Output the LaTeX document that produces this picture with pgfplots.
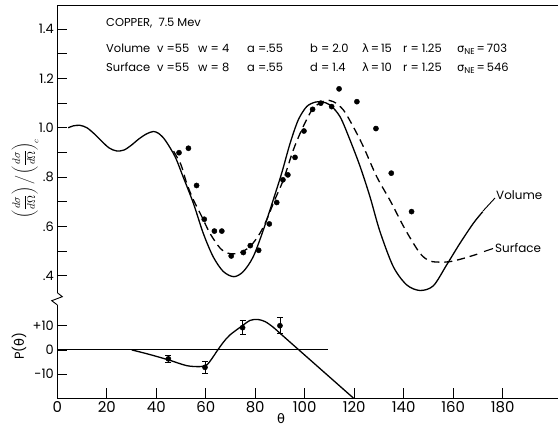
\documentclass[border=0pt]{standalone}
\usepackage{fontspec}
\setmainfont{Poppins}
\newfontfamily\grk{DejaVu Sans}
\usepackage{amsmath}
\usepackage{pgfplots}
\usepackage{pgfplotstable}
\pgfplotsset{compat=1.18}

\pgfplotstableread{
t v
49.2 0.899
53.0 0.917
56.3 0.766
59.4 0.629
63.5 0.581
66.5 0.581
70.3 0.480
75.2 0.494
78.0 0.522
81.4 0.503
85.7 0.610
88.7 0.697
91.2 0.789
93.2 0.809
96.1 0.880
99.7 0.987
103.2 1.075
106.5 1.100
110.9 1.086
113.9 1.158
121.1 1.106
128.8 0.997
135.0 0.816
143.2 0.660
}\crossdata

\pgfplotstableread{
t v
4.4 1.000
6.5 1.008
9.2 1.010
12 1.000
15 0.975
18 0.945
21 0.918
24 0.906
27 0.910
30 0.930
33 0.955
36 0.975
38.8 0.985
41 0.977
43.6 0.950
47.6 0.883
50.9 0.800
55 0.694
59 0.572
63 0.477
67.1 0.417
71.4 0.396
75.2 0.417
79.2 0.477
83.3 0.586
87.3 0.708
90.7 0.816
94.1 0.937
97.4 1.032
100.8 1.086
104.2 1.104
106.9 1.105
110.2 1.093
114.3 1.045
118.3 0.951
122.4 0.843
126.4 0.720
130.4 0.580
135.8 0.437
141.2 0.363
146.6 0.340
152 0.359
157.4 0.444
162.8 0.532
168.2 0.613
172 0.660
}\volume

\pgfplotstableread{
t v
47 0.905
50 0.850
52.3 0.775
55 0.708
58.4 0.640
61.7 0.572
65.8 0.512
69.1 0.491
73.2 0.491
77.9 0.518
81.9 0.572
84.6 0.626
88 0.710
91.4 0.789
95.4 0.910
99.4 1.005
103.5 1.080
108.2 1.110
111.6 1.106
115.6 1.073
119.6 1.005
123.7 0.924
129.1 0.802
134.8 0.700
140.5 0.590
146.6 0.491
150.6 0.460
154.7 0.455
158.7 0.457
164.1 0.470
170.9 0.491
}\surface

\pgfplotstableread{
t p e
44.9 -3.7 1.3
59.7 -7.2 2.4
74.9 9.2 2.8
90.0 10.0 3.3
}\poldata

\pgfplotstableread{
t p
30.1 0
37 -1.8
44.9 -4.1
52.3 -6.5
57.7 -6.9
60.4 -6.2
62.5 -3.6
64.4 -0.7
67 3.0
69.8 6.2
75.2 10.3
77.9 12.2
81 12.6
84 11.7
87 9.6
90 6.9
}\polcurve

\pgfplotstableread{
t p
90 6.9
119.8 -20
}\polline

\begin{document}
\begin{tikzpicture}[x=1bp,y=1bp]
\useasboundingbox (0,0) rectangle (558,429);
\begin{axis}[
  at={(57.3bp,136.3bp)}, anchor=south west,
  width=500.7bp, height=286.9bp, scale only axis,
  xmin=0, xmax=202.4, ymin=0.331, ymax=1.495,
  axis x line*=top, axis y line*=left,
  xtick=\empty,
  ytick={0.4,0.6,0.8,1.0,1.2,1.4}, yticklabels={.4,.6,.8,1.0,1.2,1.4},
  minor ytick={0.5,0.7,0.9,1.1,1.3},
  tick align=inside, major tick length=10bp, minor tick length=10bp,
  tick style={black, line width=0.8bp},
  axis line style={black, line width=0.9bp},
  yticklabel style={font=\fontsize{13}{15}\selectfont},
  clip=false,
]
\addplot[black, line width=1.3bp, smooth] table[x=t,y=v] {\volume};
\addplot[black, line width=1.3bp, smooth, dash pattern=on 8bp off 5bp] table[x=t,y=v] {\surface};
\addplot[only marks, mark=*, mark size=2.6bp, black] table[x=t,y=v] {\crossdata};
\end{axis}
\begin{axis}[
  at={(57.3bp,30.7bp)}, anchor=south west,
  width=500.7bp, height=93.4bp, scale only axis,
  xmin=0, xmax=202.4, ymin=-20, ymax=18.6,
  axis x line*=bottom, axis y line*=left,
  xtick={0,20,40,60,80,100,120,140,160,180},
  xticklabels={0,20,40,60,80,100,120,140,160,180},
  ytick={-10,0,10}, yticklabels={-10,0,+10},
  tick align=inside, major tick length=10bp,
  tick style={black, line width=0.8bp},
  axis line style={black, line width=0.9bp},
  yticklabel style={font=\fontsize{13}{15}\selectfont},
  xticklabel style={font=\fontsize{15}{17}\selectfont},
  clip=false,
]
\addplot[black, line width=0.9bp] coordinates {(0,0) (109.4,0)};
\addplot[black, line width=1.3bp, smooth] table[x=t,y=p] {\polcurve};
\addplot[black, line width=1.3bp] table[x=t,y=p] {\polline};
\addplot[only marks, mark=*, mark size=2.6bp, black,
  error bars/.cd, y dir=both, y explicit,
  error bar style={line width=0.9bp},
  error mark options={rotate=90, mark size=3bp, line width=0.9bp}]
  table[x=t,y=p,y error=e] {\poldata};
\end{axis}
% axis break
\draw[black, line width=0.9bp] (57.3,136.3) -- (62.3,132.3) -- (51.7,128.3) -- (57.3,124.1);
% axis labels
\node[rotate=90, inner sep=0, font=\fontsize{11}{13}\selectfont] at (25,250) {$\left(\dfrac{d\sigma}{d\Omega}\right)\Big/\left(\dfrac{d\sigma}{d\Omega}\right)_{\!c}$};
\node[rotate=90, font=\fontsize{13}{15}\selectfont] at (19,83) {P({\grk θ})};
\node[font=\fontsize{13}{15}\selectfont\grk] at (281,10) {θ};
% header
\begin{scope}[every node/.style={anchor=base west, inner sep=0, font=\fontsize{11.5}{13}\selectfont}]
\node at (106,429-27) {COPPER, \ 7.5 Mev};
\node at (106,429-52) {Volume};
\node at (157,429-52) {v =55};
\node at (198,429-52) {w = 4};
\node at (247,429-52) {a =.55};
\node at (310,429-52) {b = 2.0};
\node at (362,429-52) {{\grk λ}\,=\,15};
\node at (403,429-52) {r = 1.25};
\node at (457,429-52) {{\grk σ}\raisebox{-0.4ex}{\fontsize{8.5}{8.5}\selectfont NE}\,=\,703};
\node at (106,429-71) {Surface};
\node at (157,429-71) {v =55};
\node at (198,429-71) {w = 8};
\node at (247,429-71) {a =.55};
\node at (310,429-71) {d = 1.4};
\node at (362,429-71) {{\grk λ}\,=\,10};
\node at (403,429-71) {r = 1.25};
\node at (457,429-71) {{\grk σ}\raisebox{-0.4ex}{\fontsize{8.5}{8.5}\selectfont NE}\,=\,546};
\end{scope}
% curve labels
\draw[black, line width=0.9bp] (483,429-211) -- (495,429-198);
\node[anchor=west, inner sep=1bp, font=\fontsize{12}{14}\selectfont] at (495,429-195) {Volume};
\draw[black, line width=1.1bp] (484,429-251.5) -- (493,429-248.5);
\node[anchor=west, inner sep=1bp, font=\fontsize{12}{14}\selectfont] at (494,429-248) {Surface};
\end{tikzpicture}
\end{document}
